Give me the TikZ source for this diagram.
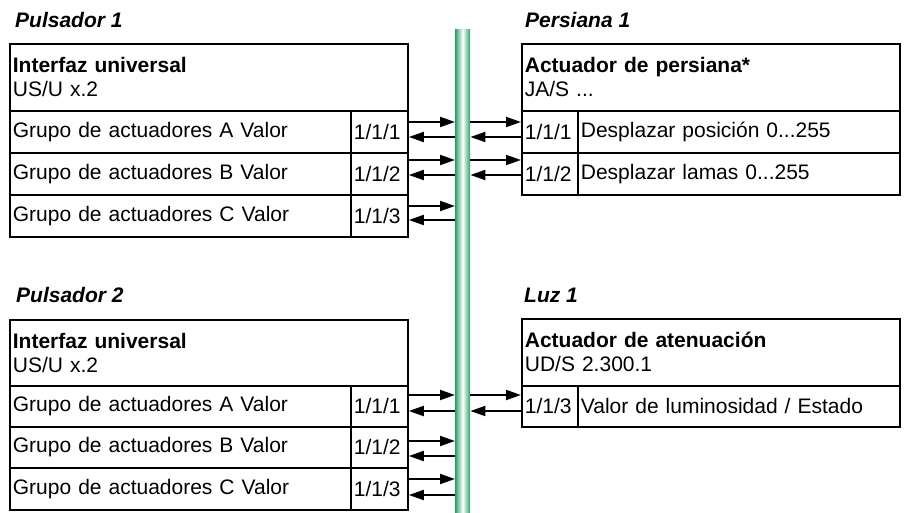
\documentclass[tikz,border=0pt]{standalone}
\usepackage{fontspec}
\setmainfont{Liberation Sans}
\usetikzlibrary{arrows.meta}
\definecolor{busgreen}{RGB}{45,160,105}
\tikzset{
  cell/.style={draw, line width=1.8pt, anchor=north west, inner xsep=3pt, inner ysep=0pt, align=left, font=\fontsize{21}{24}\selectfont},
  title/.style={anchor=base west, inner sep=0pt, font=\fontsize{21}{24}\selectfont\bfseries\itshape},
  sig/.style={line width=1.9pt, -{Triangle[length=15pt,width=10pt]}},
  bus/.style={draw=none, inner sep=0pt, anchor=north west, left color=busgreen, right color=busgreen, middle color=white}
}
\begin{document}
\begin{tikzpicture}[x=1pt,y=-1pt]
\useasboundingbox (0,0) rectangle (906,513);
% bus
\node[bus, minimum width=15pt, minimum height=484pt] (bus) at (455,29) {};
% titles
\node[title] (t1) at (15,28) {Pulsador 1};
\node[title] (t2) at (525,28) {Persiana 1};
\node[title] (t3) at (16,303) {Pulsador 2};
\node[title] (t4) at (524,303) {Luz 1};
% left box 1
\node[cell, minimum width=398pt, minimum height=67pt, text width=392pt] (L1h) at (9,43) {\textbf{Interfaz universal}\\US/U x.2};
\node[cell, minimum width=341pt, minimum height=42pt, text width=335pt] (L1a) at (9,110) {Grupo de actuadores A Valor};
\node[cell, minimum width=57pt, minimum height=42pt, text width=51pt] (L1an) at (350,110) {1/1/1};
\node[cell, minimum width=341pt, minimum height=42pt, text width=335pt] (L1b) at (9,152) {Grupo de actuadores B Valor};
\node[cell, minimum width=57pt, minimum height=42pt, text width=51pt] (L1bn) at (350,152) {1/1/2};
\node[cell, minimum width=341pt, minimum height=42pt, text width=335pt] (L1c) at (9,194) {Grupo de actuadores C Valor};
\node[cell, minimum width=57pt, minimum height=42pt, text width=51pt] (L1cn) at (350,194) {1/1/3};
% right box 1
\node[cell, minimum width=378pt, minimum height=67pt, text width=372pt] (R1h) at (521,43) {\textbf{Actuador de persiana*}\\JA/S ...};
\node[cell, minimum width=56pt, minimum height=42pt, text width=50pt] (R1an) at (521,110) {1/1/1};
\node[cell, minimum width=322pt, minimum height=42pt, text width=316pt] (R1a) at (577,110) {Desplazar posición 0...255};
\node[cell, minimum width=56pt, minimum height=42pt, text width=50pt] (R1bn) at (521,152) {1/1/2};
\node[cell, minimum width=322pt, minimum height=42pt, text width=316pt] (R1b) at (577,152) {Desplazar lamas 0...255};
% left box 2
\node[cell, minimum width=398pt, minimum height=66pt, text width=392pt] (L2h) at (9,319) {\textbf{Interfaz universal}\\US/U x.2};
\node[cell, minimum width=341pt, minimum height=41pt, text width=335pt] (L2a) at (9,385) {Grupo de actuadores A Valor};
\node[cell, minimum width=57pt, minimum height=41pt, text width=51pt] (L2an) at (350,385) {1/1/1};
\node[cell, minimum width=341pt, minimum height=41pt, text width=335pt] (L2b) at (9,426) {Grupo de actuadores B Valor};
\node[cell, minimum width=57pt, minimum height=41pt, text width=51pt] (L2bn) at (350,426) {1/1/2};
\node[cell, minimum width=341pt, minimum height=42pt, text width=335pt] (L2c) at (9,467) {Grupo de actuadores C Valor};
\node[cell, minimum width=57pt, minimum height=42pt, text width=51pt] (L2cn) at (350,467) {1/1/3};
% right box 2
\node[cell, minimum width=378pt, minimum height=67pt, text width=372pt] (R2h) at (521,318) {\textbf{Actuador de atenuación}\\UD/S 2.300.1};
\node[cell, minimum width=56pt, minimum height=41pt, text width=50pt] (R2an) at (521,385) {1/1/3};
\node[cell, minimum width=322pt, minimum height=41pt, text width=316pt] (R2a) at (577,385) {Valor de luminosidad / Estado};
% arrows left box 1
\draw[sig] (L1an.east |- 0,122) -- (bus.west |- 0,122);
\draw[sig] (bus.west |- 0,137) -- (L1an.east |- 0,137);
\draw[sig] (L1bn.east |- 0,160) -- (bus.west |- 0,160);
\draw[sig] (bus.west |- 0,175) -- (L1bn.east |- 0,175);
\draw[sig] (L1cn.east |- 0,206) -- (bus.west |- 0,206);
\draw[sig] (bus.west |- 0,220) -- (L1cn.east |- 0,220);
% arrows right box 1
\draw[sig] (bus.east |- 0,122) -- (R1an.west |- 0,122);
\draw[sig] (R1an.west |- 0,137) -- (bus.east |- 0,137);
\draw[sig] (bus.east |- 0,160) -- (R1bn.west |- 0,160);
\draw[sig] (R1bn.west |- 0,175) -- (bus.east |- 0,175);
% arrows left box 2
\draw[sig] (L2an.east |- 0,395) -- (bus.west |- 0,395);
\draw[sig] (bus.west |- 0,411) -- (L2an.east |- 0,411);
\draw[sig] (L2bn.east |- 0,441) -- (bus.west |- 0,441);
\draw[sig] (bus.west |- 0,456) -- (L2bn.east |- 0,456);
\draw[sig] (L2cn.east |- 0,479) -- (bus.west |- 0,479);
\draw[sig] (bus.west |- 0,495) -- (L2cn.east |- 0,495);
% arrows right box 2
\draw[sig] (bus.east |- 0,395) -- (R2an.west |- 0,395);
\draw[sig] (R2an.west |- 0,411) -- (bus.east |- 0,411);
\end{tikzpicture}
\end{document}
